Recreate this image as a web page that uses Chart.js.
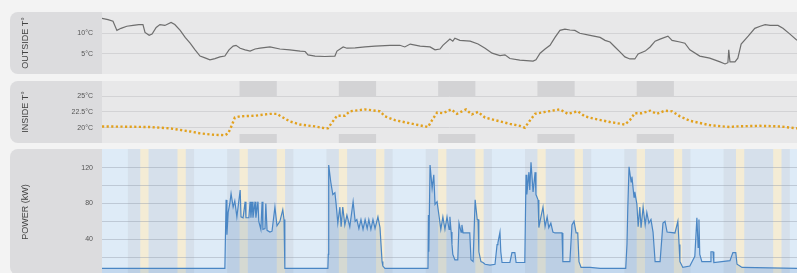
<!DOCTYPE html>
<html><head><meta charset="utf-8">
<script src="https://cdn.jsdelivr.net/npm/chart.js@4.4.1/dist/chart.umd.min.js"></script>
<style>
html,body{margin:0;padding:0;background:#f3f3f3;width:797px;height:273px;overflow:hidden;position:relative;}
.panel{position:absolute;left:10px;width:787px;background:#dcdcde;border-radius:8px 0 0 8px;overflow:hidden;}
canvas{display:block;}
</style></head><body>
<div class="panel" style="top:12px;height:62px"><canvas id="c1" width="787" height="62"></canvas></div>
<div class="panel" style="top:81px;height:62px"><canvas id="c2" width="787" height="62"></canvas></div>
<div class="panel" style="top:149px;height:126px"><canvas id="c3" width="787" height="126"></canvas></div>
<script>
// ---------- DATA (time in hours from start of week) ----------
const outsideHours = [0,1.45,2.66,3.6,4.6,6.0,7.5,8.9,9.9,10.4,11.4,12.1,13.1,14.0,15.2,16.7,17.6,18.9,20.1,21.3,22.5,23.7,24.9,26.1,27.3,28.5,29.7,30.7,31.7,32.4,33.4,34.6,35.8,37.0,38.2,40.6,43.0,45.4,47.9,49.1,49.8,51.5,53.9,56.3,56.8,58.3,59.2,61.2,63.6,66.0,69.6,72.0,73.2,74.5,76.9,79.3,80.5,81.7,82.4,84.1,84.8,85.3,86.5,89.0,90.9,92.6,94.3,96.2,97.4,98.6,101.0,104.2,104.9,105.9,107.1,108.3,109.5,110.7,111.9,113.1,114.3,115.5,118.0,120.4,121.6,122.8,124.0,125.2,126.4,127.6,128.8,129.6,131.3,132.5,133.7,134.9,136.8,137.8,139.7,140.9,142.1,144.5,146.9,149.4,150.6,151.3,151.5,151.8,153.0,153.7,154.5,156.2,157.8,159.1,160.3,161.5,163.4,164.6,166.3,168.0];
const outsideTemp = [13.6,13.3,12.9,10.7,11.2,11.7,11.9,12.1,12.1,10.2,9.5,9.8,11.4,12.1,11.9,12.6,12.1,10.7,9.0,7.6,6.0,4.5,4.05,3.6,3.9,4.3,4.5,6.0,6.9,7.1,6.4,6.0,5.7,6.2,6.4,6.7,6.2,6.0,5.7,5.6,4.8,4.5,4.4,4.5,5.7,6.7,6.4,6.5,6.7,6.9,7.1,7.1,6.7,7.4,6.9,6.7,6.0,6.2,7.1,8.6,8.1,8.8,8.3,8.1,7.4,6.4,5.2,4.6,4.8,3.9,3.5,3.3,3.6,5.2,6.2,7.1,9.0,10.7,11.0,10.8,10.7,10.0,9.5,9.0,8.3,7.9,6.7,5.5,4.3,3.8,3.8,5.0,5.7,6.7,8.1,8.6,9.3,8.3,7.9,7.6,6.0,4.5,4.0,3.1,2.6,2.9,6.0,3.1,3.1,4.0,7.4,9.3,11.2,11.7,12.1,11.9,11.9,11.2,9.8,8.3];

const insideHours = [0,6.8,11.6,16.4,21.3,23.7,26.6,29.7,30.5,31.4,32.1,33.4,37.0,40.6,42.3,43.0,45.4,47.9,51.5,53.9,54.6,55.8,56.8,58.7,59.9,63.6,67.2,68.4,70.8,74.4,78.1,78.8,79.8,81.0,82.4,84.4,85.8,88.0,89.4,90.9,92.6,96.2,98.6,101.0,102.2,103.4,104.7,107.1,110.7,112.6,115.0,116.7,119.1,122.8,126.4,127.6,128.8,130.5,132.5,134.1,136.1,137.8,139.7,142.1,146.9,151.8,153.0,159.0,163.9,168.0];
const insideTemp = [20.2,20.15,20.1,19.9,19.4,19.1,18.9,18.8,19.1,20.4,21.6,21.8,21.9,22.2,22.2,21.9,21.0,20.5,20.2,19.9,19.9,21.0,21.9,21.9,22.6,22.9,22.6,21.8,21.2,20.7,20.2,20.1,21.2,22.4,22.3,22.9,22.2,22.9,22.1,22.5,21.6,21.0,20.6,20.3,20.0,21.1,22.2,22.5,22.9,22.2,22.6,21.8,21.4,20.9,20.5,21.2,22.3,22.3,22.7,22.2,22.7,22.6,21.8,21.1,20.4,20.1,20.2,20.3,20.2,19.9];

const powerHours = [0,29.7,30.0,30.2,30.5,30.9,31.2,31.7,32.1,32.6,33.4,33.6,34.1,34.6,34.8,35.5,35.8,36.0,36.3,36.5,37.0,37.2,37.7,37.9,38.4,38.7,38.9,39.4,39.6,39.9,40.6,41.1,41.8,42.3,43.0,43.7,44.0,44.2,
  54.6,54.7,54.8,55.3,55.8,56.3,56.6,57.0,57.5,57.8,58.2,58.7,59.2,59.9,60.7,61.2,61.6,62.1,62.6,63.1,63.6,64.1,64.5,65.0,65.5,66.0,66.7,67.2,67.7,67.9,68.4,
  78.8,78.9,79.0,79.3,79.8,80.2,80.5,81.0,81.5,81.9,82.4,82.9,83.4,83.9,84.1,84.4,84.6,84.8,85.3,86.0,86.3,86.8,87.0,87.3,88.9,89.2,89.7,90.2,90.7,90.9,91.1,91.6,92.1,92.6,93.8,95.0,95.5,95.7,96.2,96.4,96.7,98.6,99.1,99.8,100.1,
  102.2,102.5,102.7,103.2,103.4,103.7,104.2,104.7,104.9,105.4,105.6,106.1,106.6,107.1,107.6,108.0,108.5,109.0,109.5,111.2,111.4,113.1,113.6,114.1,114.6,115.0,115.3,115.8,118.0,120.4,
  126.6,126.9,127.1,127.4,127.9,128.1,128.6,128.8,129.3,129.6,130.0,130.3,130.8,131.3,131.7,132.2,132.7,133.2,133.7,134.9,135.6,136.1,136.6,138.5,139.2,139.5,139.7,140.4,142.1,143.3,143.8,144.1,144.3,144.5,145.0,147.0,147.2,147.7,147.9,151.8,152.5,153.2,153.5,154.2,154.7,168.0];
const powerKW = [7.4,7.4,84,45,70,80,91,76,83,65,95,65,64,82,64,64,82,64,82,64,82,64,82,60,51,82,51,52,80,50,48,49,76,55,60,73,62,7.4,
  7.4,23,123,104,90,92,79,58,76,54,76,56,67,54,82,60,62,52,62,51,62,52,62,51,62,52,65,53,15,10,7.4,
  7.4,67,26,123,97,112,79,82,65,51,65,51,65,51,65,48,34,23,17,17,58,48,56,47,47,17,15,84,62,62,26,15,14,12,11,12,34,36,48,26,14,14,25,25,14,
  14,112,90,115,95,126,93,115,90,84,53,65,76,54,65,53,58,48,47,47,15,15,56,60,47,47,15,8.5,8.5,7.4,
  7.4,34,75,121,104,110,87,93,79,54,76,53,76,56,70,58,62,48,15,15,58,60,48,47,60,34,15,8.5,10,21,64,31,62,23,15,15,26,26,14,16,25,25,12,10,8.5,7.4];

// schedule (hours of day)
const dayCount = 7;
const activeHours = [6.25, 22.25];
const transitionWindows = [[9.25, 11.25], [18.25, 20.25]];
const occupiedDays = [1, 2, 3, 4, 5];
const occupiedHours = [9.25, 18.25];
const comfortUpper = [25, 27.41];
const comfortLower = [17.57, 19];

// ticks
const outsideTicks = [5, 10];
const insideTicks = [20, 22.5, 25];
const powerTicks = [20, 40, 60, 80, 100, 120];
const powerLabelled = [40, 80, 120];

// ---------- RENDERING ----------
const FONT = 'Liberation Sans, Arial, sans-serif';
const bgPlugin = {
  id: 'bg',
  beforeDraw(chart, args, opts) {
    const {ctx, chartArea: a, scales: {x, y}} = chart;
    ctx.save();
    ctx.beginPath(); ctx.rect(a.left, a.top, a.right - a.left, a.bottom - a.top); ctx.clip();
    ctx.fillStyle = opts.plotColor;
    ctx.fillRect(a.left, a.top, a.right - a.left, a.bottom - a.top);
    (opts.rects || []).forEach(r => {
      const x0 = x.getPixelForValue(r.x0), x1 = x.getPixelForValue(r.x1);
      const ya = r.y0 == null ? a.bottom : y.getPixelForValue(r.y0);
      const yb = r.y1 == null ? a.top : y.getPixelForValue(r.y1);
      ctx.fillStyle = r.color;
      ctx.fillRect(x0, Math.min(ya, yb), x1 - x0, Math.abs(yb - ya));
    });
    ctx.restore();
  }
};

function opts(yMin, yMax, tickVals, title, labelFn, gridColor, plotColor, rects) {
  return {
    responsive: false, animation: false, devicePixelRatio: 1,
    layout: {padding: 0},
    plugins: {legend: {display: false}, tooltip: {enabled: false}, bg: {plotColor, rects}},
    elements: {point: {radius: 0}, line: {tension: 0}},
    scales: {
      x: {type: 'linear', min: 0, max: 168, display: false},
      y: {
        min: yMin, max: yMax,
        afterBuildTicks: s => { s.ticks = tickVals.map(v => ({value: v})); },
        afterFit: s => { s.width = 92; s.paddingTop = 0; s.paddingBottom = 0; },
        ticks: {font: {size: 7, family: FONT}, color: '#555', padding: 9, callback: labelFn},
        grid: {color: gridColor, drawTicks: false, lineWidth: 1},
        border: {display: false},
        title: {display: true, text: title, color: '#444', font: {size: 9, family: FONT}, padding: {top: 10, bottom: 0}}
      }
    }
  };
}
const pts = (xs, ys) => xs.map((h, i) => ({x: h, y: ys[i]}));

// Panel 1
new Chart(document.getElementById('c1'), {
  type: 'line',
  data: {datasets: [{data: pts(outsideHours, outsideTemp), borderColor: '#6e6e6e', borderWidth: 1.2}]},
  options: opts(0.17, 15.14, outsideTicks, 'OUTSIDE T°', v => v + '°C', '#d3d3d5', '#e8e8e9', []),
  plugins: [bgPlugin]
});

// Panel 2
const grayRects = [];
occupiedDays.forEach(d => {
  const x0 = d * 24 + occupiedHours[0], x1 = d * 24 + occupiedHours[1];
  grayRects.push({x0, x1, y0: comfortUpper[0], y1: comfortUpper[1], color: '#d3d3d5'});
  grayRects.push({x0, x1, y0: comfortLower[0], y1: comfortLower[1], color: '#d3d3d5'});
});
new Chart(document.getElementById('c2'), {
  type: 'line',
  data: {datasets: [{data: pts(insideHours, insideTemp), borderColor: '#e2a11e', borderWidth: 2.4, borderDash: [2.2, 2.4], borderCapStyle: 'butt'}]},
  options: opts(17.57, 27.41, insideTicks, 'INSIDE T°', v => v + '°C', '#d3d3d5', '#e8e8e9', grayRects),
  plugins: [bgPlugin]
});

// Panel 3
const bandRects = [];
for (let d = 0; d < dayCount; d++) {
  bandRects.push({x0: d * 24 + activeHours[0], x1: d * 24 + activeHours[1], color: '#d6e0eb'});
  transitionWindows.forEach(w => bandRects.push({x0: d * 24 + w[0], x1: d * 24 + w[1], color: '#f4ecd5'}));
}
new Chart(document.getElementById('c3'), {
  type: 'line',
  data: {datasets: [{data: pts(powerHours, powerKW), borderColor: '#4a86c4', borderWidth: 1.2, fill: 'origin', backgroundColor: 'rgba(74,134,198,0.18)'}]},
  options: opts(0, 140.9, powerTicks, 'POWER (kW)', v => powerLabelled.includes(v) ? String(v) : '', 'rgba(150,160,172,0.45)', '#deebf7', bandRects),
  plugins: [bgPlugin]
});
</script>
</body></html>
